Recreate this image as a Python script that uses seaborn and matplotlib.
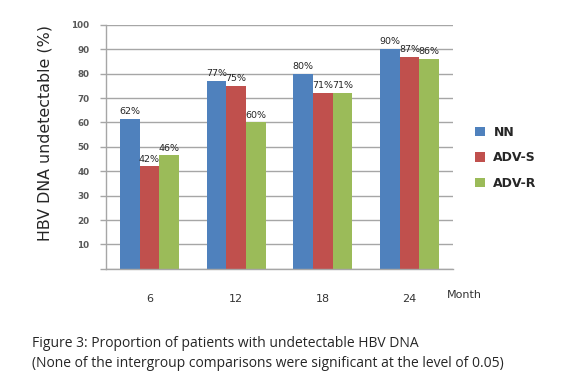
import matplotlib
matplotlib.use("Agg")
import matplotlib.pyplot as plt
import seaborn as sns
import pandas as pd

months = ["6", "12", "18", "24"]
groups = ["NN", "ADV-S", "ADV-R"]
nn = [61.5, 77, 80, 90]
adv_s = [42, 75, 72, 87]
adv_r = [46.5, 60, 72, 86]
nn_labels = ["62%", "77%", "80%", "90%"]
adv_s_labels = ["42%", "75%", "71%", "87%"]
adv_r_labels = ["46%", "60%", "71%", "86%"]
yticks = [0, 10, 20, 30, 40, 50, 60, 70, 80, 90, 100]

colors = ["#4F81BD", "#C0504D", "#9BBB59"]

df = pd.DataFrame({
    "month": months * 3,
    "group": [g for g in groups for _ in months],
    "value": nn + adv_s + adv_r,
})

sns.set_style("white")
fig = plt.figure(figsize=(5.86, 3.88), dpi=100)
ax = fig.add_axes([0.181, 0.307, 0.592, 0.629])

sns.barplot(data=df, x="month", y="value", hue="group", order=months,
            hue_order=groups, palette=colors, saturation=1, width=0.68,
            gap=0, linewidth=0, edgecolor="none", ax=ax, legend=True)

# 막대 위 퍼센트 라벨
for cont, labs in zip(ax.containers, [nn_labels, adv_s_labels, adv_r_labels]):
    ax.bar_label(cont, labels=labs, fontsize=6.8, padding=2)

ax.set_xlim(-0.5, 3.5)
ax.set_ylim(0, 100)
ax.set_yticks(yticks)
ax.set_yticklabels([""] + [str(t) for t in yticks[1:]], fontsize=6.3,
                   color="#595959", fontweight="bold")
ax.yaxis.grid(True, color="#A6A6A6", linewidth=1)
ax.set_axisbelow(True)
ax.set_xticks(range(4))
ax.set_xticklabels(months, fontsize=8, color="#333333")
ax.set_xticks([-0.5, 0.5, 1.5, 2.5, 3.5], minor=True)
ax.tick_params(axis="x", which="major", length=0, pad=18)
ax.tick_params(axis="x", which="minor", length=5, color="#A6A6A6", width=1)
ax.tick_params(axis="y", length=4, color="#A6A6A6", width=1, pad=8, left=True)

for side in ["top", "right"]:
    ax.spines[side].set_visible(False)
for side in ["left", "bottom"]:
    ax.spines[side].set_color("#A6A6A6")
    ax.spines[side].set_linewidth(1)

ax.set_xlabel("")
ax.set_ylabel("HBV DNA undetectable (%)", fontsize=11.4)
ax.yaxis.set_label_coords(-0.155, 0.555)
ax.text(3.43, -10.5, "Month", fontsize=8, color="#333333", va="center", ha="left")

leg = ax.legend(loc="center left", bbox_to_anchor=(1.03, 0.455), frameon=False,
                handlelength=0.8, handleheight=0.8, labelspacing=1.0,
                handletextpad=0.7, prop={"size": 9, "weight": "bold"})

fig.text(0.055, 0.115, "Figure 3: Proportion of patients with undetectable HBV DNA",
         fontsize=10, family="Open Sans", va="center")
fig.text(0.055, 0.063,
         "(None of the intergroup comparisons were significant at the level of 0.05)",
         fontsize=10, family="Open Sans", va="center")

fig.savefig("out.png", dpi=100)
